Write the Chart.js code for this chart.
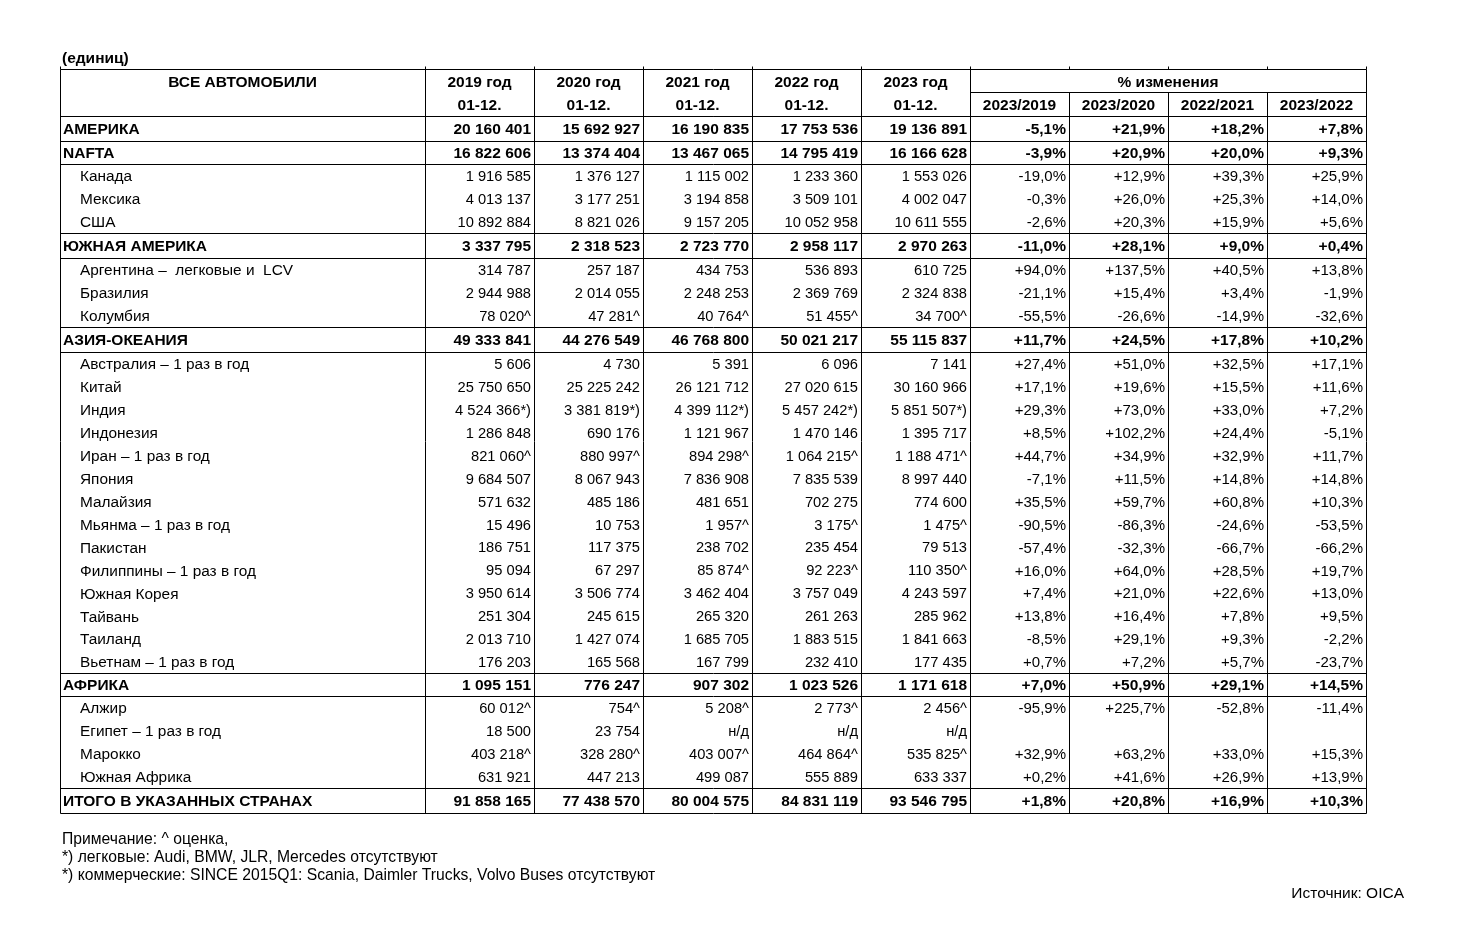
<!DOCTYPE html>
<html><head><meta charset="utf-8">
<script src="https://cdn.jsdelivr.net/npm/chart.js@4.4.0/dist/chart.umd.min.js"></script>
<style>html,body{margin:0;padding:0;background:#fff}#wrap{position:relative;width:1460px;height:937px}canvas{display:block}</style>
</head><body><div id="wrap"><canvas id="c" width="1460" height="937"></canvas></div>
<script>
// ---------- DATA ----------
const unitsLabel = '(единиц)';
const cornerHeader = 'ВСЕ АВТОМОБИЛИ';
const yearHeaders = ['2019 год','2020 год','2021 год','2022 год','2023 год'];
const periodLabel = '01-12.';
const pctGroupHeader = '% изменения';
const pctHeaders = ['2023/2019','2023/2020','2022/2021','2023/2022'];

const rowNames = ['АМЕРИКА','NAFTA','Канада','Мексика','США','ЮЖНАЯ АМЕРИКА','Аргентина –  легковые и  LCV','Бразилия','Колумбия','АЗИЯ-ОКЕАНИЯ','Австралия – 1 раз в год','Китай','Индия','Индонезия','Иран – 1 раз в год','Япония','Малайзия','Мьянма – 1 раз в год','Пакистан','Филиппины – 1 раз в год','Южная Корея','Тайвань','Таиланд','Вьетнам – 1 раз в год','АФРИКА','Алжир','Египет – 1 раз в год','Марокко','Южная Африка','ИТОГО В УКАЗАННЫХ СТРАНАХ'];
const regionRows = ['АМЕРИКА','NAFTA','ЮЖНАЯ АМЕРИКА','АЗИЯ-ОКЕАНИЯ','АФРИКА','ИТОГО В УКАЗАННЫХ СТРАНАХ'];

const y2019 = ['20 160 401','16 822 606','1 916 585','4 013 137','10 892 884','3 337 795','314 787','2 944 988','78 020^','49 333 841','5 606','25 750 650','4 524 366*)','1 286 848','821 060^','9 684 507','571 632','15 496','186 751','95 094','3 950 614','251 304','2 013 710','176 203','1 095 151','60 012^','18 500','403 218^','631 921','91 858 165'];
const y2020 = ['15 692 927','13 374 404','1 376 127','3 177 251','8 821 026','2 318 523','257 187','2 014 055','47 281^','44 276 549','4 730','25 225 242','3 381 819*)','690 176','880 997^','8 067 943','485 186','10 753','117 375','67 297','3 506 774','245 615','1 427 074','165 568','776 247','754^','23 754','328 280^','447 213','77 438 570'];
const y2021 = ['16 190 835','13 467 065','1 115 002','3 194 858','9 157 205','2 723 770','434 753','2 248 253','40 764^','46 768 800','5 391','26 121 712','4 399 112*)','1 121 967','894 298^','7 836 908','481 651','1 957^','238 702','85 874^','3 462 404','265 320','1 685 705','167 799','907 302','5 208^','н/д','403 007^','499 087','80 004 575'];
const y2022 = ['17 753 536','14 795 419','1 233 360','3 509 101','10 052 958','2 958 117','536 893','2 369 769','51 455^','50 021 217','6 096','27 020 615','5 457 242*)','1 470 146','1 064 215^','7 835 539','702 275','3 175^','235 454','92 223^','3 757 049','261 263','1 883 515','232 410','1 023 526','2 773^','н/д','464 864^','555 889','84 831 119'];
const y2023 = ['19 136 891','16 166 628','1 553 026','4 002 047','10 611 555','2 970 263','610 725','2 324 838','34 700^','55 115 837','7 141','30 160 966','5 851 507*)','1 395 717','1 188 471^','8 997 440','774 600','1 475^','79 513','110 350^','4 243 597','285 962','1 841 663','177 435','1 171 618','2 456^','н/д','535 825^','633 337','93 546 795'];

const p2023_2019 = [-5.1,-3.9,-19.0,-0.3,-2.6,-11.0,94.0,-21.1,-55.5,11.7,27.4,17.1,29.3,8.5,44.7,-7.1,35.5,-90.5,-57.4,16.0,7.4,13.8,-8.5,0.7,7.0,-95.9,null,32.9,0.2,1.8];
const p2023_2020 = [21.9,20.9,12.9,26.0,20.3,28.1,137.5,15.4,-26.6,24.5,51.0,19.6,73.0,102.2,34.9,11.5,59.7,-86.3,-32.3,64.0,21.0,16.4,29.1,7.2,50.9,225.7,null,63.2,41.6,20.8];
const p2022_2021 = [18.2,20.0,39.3,25.3,15.9,9.0,40.5,3.4,-14.9,17.8,32.5,15.5,33.0,24.4,32.9,14.8,60.8,-24.6,-66.7,28.5,22.6,7.8,9.3,5.7,29.1,-52.8,null,33.0,26.9,16.9];
const p2023_2022 = [7.8,9.3,25.9,14.0,5.6,0.4,13.8,-1.9,-32.6,10.2,17.1,11.6,7.2,-5.1,11.7,14.8,10.3,-53.5,-66.2,19.7,13.0,9.5,-2.2,-23.7,14.5,-11.4,null,15.3,13.9,10.3];

const notes = ['Примечание: ^ оценка,','*) легковые: Audi, BMW, JLR, Mercedes отсутствуют','*) коммерческие: SINCE 2015Q1: Scania, Daimler Trucks, Volvo Buses отсутствуют'];
const sourceLabel = 'Источник: OICA';

// ---------- LAYOUT (styles / sizes) ----------
const LAYOUT = {
  colW: [365,109,109,109,109,109,99,99,99,99],
  headH: [23,24],
  rowH: {'АМЕРИКА':25,'NAFTA':23,'ЮЖНАЯ АМЕРИКА':25,'АЗИЯ-ОКЕАНИЯ':25,'АФРИКА':23,'ИТОГО В УКАЗАННЫХ СТРАНАХ':25},
  normalH: 22.92,
  font: "'Liberation Sans', Arial, sans-serif",
  nameSize: 15.4,
  yearSize: 14.7,
  pctSize: 15,
  boldSize: 15.5,
  noteSize: 15.7,
  sourceSize: 15.5
};

const fmtPct = v => v === null ? '' : (v > 0 ? '+' : '') + v.toFixed(1).replace('.', ',') + '%';
const valueCols = [y2019, y2020, y2021, y2022, y2023,
  p2023_2019.map(fmtPct), p2023_2020.map(fmtPct), p2022_2021.map(fmtPct), p2023_2022.map(fmtPct)];

const colEdges = [0];
LAYOUT.colW.forEach(w => colEdges.push(colEdges[colEdges.length-1] + w));
const rowEdges = [0, LAYOUT.headH[0], LAYOUT.headH[0] + LAYOUT.headH[1]];
rowNames.forEach(n => rowEdges.push(rowEdges[rowEdges.length-1] + (LAYOUT.rowH[n] || LAYOUT.normalH)));
const totalW = colEdges[colEdges.length-1];
const totalH = rowEdges[rowEdges.length-1];
const rowMid = i => (rowEdges[i+2] + rowEdges[i+3]) / 2;

const datasets = valueCols.map((col, c) => ({
  label: 'c' + c,
  data: col.map((_, i) => ({x: colEdges[c+2], y: rowMid(i)})),
  pointRadius: 0, pointHoverRadius: 0, showLine: false
}));

const F = (bold, size) => (bold ? 'bold ' : '') + size + 'px ' + LAYOUT.font;

const tablePlugin = {
  id: 'table',
  afterDraw(chart) {
    const {ctx, scales: {x, y}} = chart;
    const X = v => Math.round(x.getPixelForValue(v)) + 0.5;
    const Y = v => Math.round(y.getPixelForValue(v)) + 0.5;
    ctx.save();
    ctx.strokeStyle = '#000';
    ctx.lineWidth = 1;
    const line = (x1, y1, x2, y2) => { ctx.beginPath(); ctx.moveTo(x1, y1); ctx.lineTo(x2, y2); ctx.stroke(); };
    // horizontal
    line(X(0), Y(0), X(totalW), Y(0));
    line(X(colEdges[6]), Y(rowEdges[1]), X(totalW), Y(rowEdges[1]));
    line(X(0), Y(rowEdges[2]), X(totalW), Y(rowEdges[2]));
    rowNames.forEach((n, i) => {
      if (regionRows.includes(n)) {
        line(X(0), Y(rowEdges[i+2]), X(totalW), Y(rowEdges[i+2]));
        line(X(0), Y(rowEdges[i+3]), X(totalW), Y(rowEdges[i+3]));
      }
    });
    // vertical
    colEdges.forEach((e, k) => {
      const top = (k >= 7 && k <= 9) ? Y(rowEdges[1]) : Y(0);
      line(X(e), top, X(e), Y(totalH));
      line(X(e), Y(0) - 3, X(e), Y(0));
    });
    // header text
    ctx.fillStyle = '#000';
    ctx.textBaseline = 'middle';
    const h1 = y.getPixelForValue(rowEdges[1] / 2) + 2;
    const h2 = y.getPixelForValue((rowEdges[1] + rowEdges[2]) / 2) + 2;
    ctx.font = F(true, LAYOUT.boldSize);
    ctx.textAlign = 'center';
    ctx.fillText(cornerHeader, x.getPixelForValue(colEdges[1] / 2), h1);
    yearHeaders.forEach((t, k) => {
      const cx = x.getPixelForValue((colEdges[k+1] + colEdges[k+2]) / 2);
      ctx.fillText(t, cx, h1);
      ctx.fillText(periodLabel, cx, h2);
    });
    ctx.fillText(pctGroupHeader, x.getPixelForValue((colEdges[6] + colEdges[10]) / 2), h1);
    pctHeaders.forEach((t, k) => {
      ctx.fillText(t, x.getPixelForValue((colEdges[k+6] + colEdges[k+7]) / 2), h2);
    });
    // units
    ctx.textAlign = 'left';
    ctx.fillText(unitsLabel, x.getPixelForValue(0) + 2, y.getPixelForValue(0) - 10);
    // row names
    rowNames.forEach((n, i) => {
      const bold = regionRows.includes(n);
      ctx.font = bold ? F(true, LAYOUT.boldSize) : F(false, LAYOUT.nameSize);
      ctx.textAlign = 'left';
      ctx.fillText(n, x.getPixelForValue(0) + (bold ? 3 : 20), y.getPixelForValue(rowMid(i)) + 1.5);
    });
    // values from dataset elements
    ctx.textAlign = 'right';
    valueCols.forEach((col, c) => {
      const meta = chart.getDatasetMeta(c);
      meta.data.forEach((el, i) => {
        const bold = regionRows.includes(rowNames[i]);
        ctx.font = bold ? F(true, LAYOUT.boldSize) : F(false, c < 5 ? LAYOUT.yearSize : LAYOUT.pctSize);
        ctx.fillText(col[i], el.x - 3, el.y + 1.5);
      });
    });
    // notes
    ctx.font = F(false, LAYOUT.noteSize);
    ctx.textAlign = 'left';
    const bottom = y.getPixelForValue(totalH);
    notes.forEach((t, k) => ctx.fillText(t, x.getPixelForValue(0) + 2, bottom + 27 + k * 18));
    ctx.font = F(false, LAYOUT.sourceSize);
    ctx.textAlign = 'right';
    ctx.fillText(sourceLabel, 1404, bottom + 81);
    ctx.restore();
  }
};

new Chart(document.getElementById('c'), {
  type: 'scatter',
  data: {datasets},
  options: {
    responsive: false, animation: false, devicePixelRatio: 1,
    layout: {padding: {left: 60, top: 69, right: 94, bottom: 124}},
    plugins: {legend: {display: false}, tooltip: {enabled: false}},
    events: [],
    scales: {
      x: {type: 'linear', display: false, min: 0, max: totalW},
      y: {type: 'linear', display: false, reverse: true, min: 0, max: totalH}
    }
  },
  plugins: [tablePlugin]
});
</script></body></html>
